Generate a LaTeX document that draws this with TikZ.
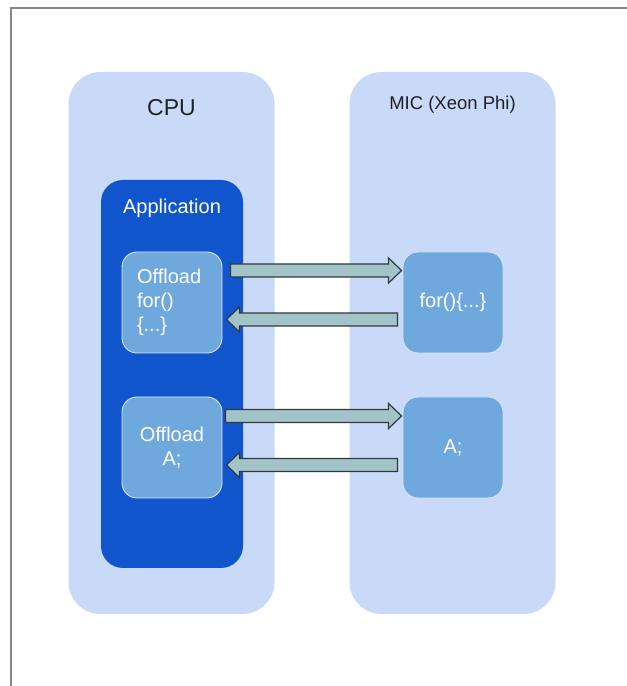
\documentclass[tikz,border=0pt]{standalone}
\usepackage{fontspec}
\setmainfont{Liberation Sans}
\usetikzlibrary{calc}
\definecolor{HostFill}{HTML}{C9DAF8}
\definecolor{AppBlue}{HTML}{1155CC}
\definecolor{CodeBlue}{HTML}{6FA8DC}
\definecolor{CodeEdge}{HTML}{D5E5F7}
\definecolor{PipeFill}{HTML}{A2C4C9}
\definecolor{PipeLine}{HTML}{2E3B3B}
\definecolor{LabelText}{HTML}{202124}
\newcommand{\HostW}{206}
\newcommand{\HostH}{542}
\newcommand{\CodeW}{100}
\newcommand{\CodeH}{101}
\newcommand{\Shaft}{6.5}
\newcommand{\Head}{12.5}
\tikzset{HostBox/.style={
    inner sep=0pt,
    minimum width=\HostW,
    minimum height=\HostH,
    rounded corners=32pt,
    draw=none,
    fill=HostFill
    }
}
\tikzset{AppBox/.style={
    inner sep=0pt,
    minimum width=142,
    minimum height=388,
    rounded corners=22pt,
    draw=none,
    fill=AppBlue
    }
}
\tikzset{CodeBox/.style={
    inner sep=0pt,
    minimum width=\CodeW,
    minimum height=\CodeH,
    rounded corners=15pt,
    draw=CodeEdge,
    line width=0.9pt,
    fill=CodeBlue,
    text=white,
    font=\fontsize{20}{24}\selectfont,
    align=center
    }
}
\tikzset{Pipe/.style={
    draw=PipeLine,
    line width=1.2pt,
    fill=PipeFill,
    line join=miter
    }
}
\newcommand{\BlockArrow}[3]{%
  \draw[Pipe] ($(#1)+(0,\Shaft)$) -- ($(#2)+({-(#3)},\Shaft)$) -- ($(#2)+({-(#3)},\Head)$) -- (#2)
     -- ($(#2)+({-(#3)},-\Head)$) -- ($(#2)+({-(#3)},-\Shaft)$) -- ($(#1)+(0,-\Shaft)$) -- cycle;}

\begin{document}
\begin{tikzpicture}[x=1pt, y=1pt, node distance=281pt]
    \useasboundingbox (0,0) rectangle (627,686);
    \draw[gray!95, line width=2pt] (11,0) -- (11,678) -- (627,678);

    \node (CPU)[HostBox] at (171.5,343) {};
    \node (MIC)[HostBox, right of=CPU] {};
    \node (cpulabel)[text=LabelText, font=\fontsize{23}{26}\selectfont] at ($(CPU.north)+(0,-36)$) {CPU};
    \node (miclabel)[text=LabelText, font=\fontsize{18.5}{22}\selectfont] at ($(MIC.north)+(0,-33)$) {MIC (Xeon Phi)};

    \node (App)[AppBox] at (172,312) {};
    \node (applabel)[text=white, font=\fontsize{20}{24}\selectfont] at ($(App.north)+(0,-29)$) {Application};

    \node (offfor)[CodeBox, inner xsep=15pt, text width=70, align=left] at (172,383.5) {Offload\\for()\\\{...\}};
    \node (offA)[CodeBox, below of=offfor, yshift=136pt] {Offload\\A;};

    \node (micfor)[CodeBox, right of=offfor] {for()\{...\}};
    \node (micA)[CodeBox, right of=offA] {A;};

    % offload in / results back
    \coordinate (go1s) at ($(offfor.east)+(8,32)$);
    \coordinate (go1e) at ($(micfor.west)+(-1,32)$);
    \coordinate (back1s) at ($(micfor.west)+(-5,-17)$);
    \coordinate (back1e) at ($(offfor.east)+(4,-17)$);
    \BlockArrow{go1s}{go1e}{13}
    \BlockArrow{back1s}{back1e}{-13}

    \coordinate (go2s) at ($(offA.east)+(3,31.5)$);
    \coordinate (go2e) at ($(micA.west)+(-1,31.5)$);
    \coordinate (back2s) at ($(micA.west)+(-5,-17.5)$);
    \coordinate (back2e) at ($(offA.east)+(4,-17.5)$);
    \BlockArrow{go2s}{go2e}{13}
    \BlockArrow{back2s}{back2e}{-13}
\end{tikzpicture}
\end{document}
